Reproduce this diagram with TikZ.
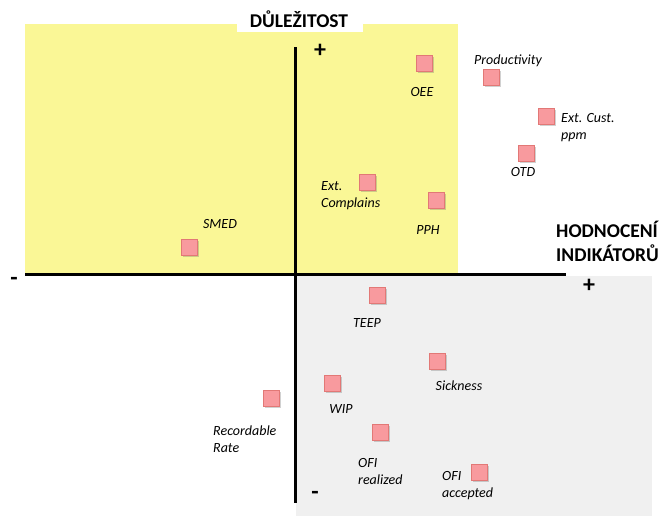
\documentclass[tikz,border=0pt]{standalone}
\usepackage{fontspec}
\setmainfont{Carlito}
\usetikzlibrary{shadows}
\definecolor{quadyellow}{RGB}{250,247,150}
\definecolor{quadgray}{RGB}{240,240,240}
\definecolor{kpifill}{RGB}{248,154,158}
\definecolor{kpiborder}{RGB}{226,120,118}
\tikzset{
  kpi/.style={draw=kpiborder, line width=0.6pt, fill=kpifill, minimum width=16pt, minimum height=16pt, inner sep=0pt,
    drop shadow={shadow xshift=1.6pt, shadow yshift=-1.8pt, opacity=0.3, fill=black!60}},
  lbl/.style={font=\itshape\fontsize{14}{17}\selectfont, inner sep=0pt, align=left},
  axis/.style={line width=3pt},
  axlbl/.style={font=\bfseries\fontsize{19.5}{24}\selectfont, inner sep=0pt, align=left},
  sign/.style={font=\bfseries\fontsize{24}{24}\selectfont, inner sep=0pt}
}
\begin{document}
\begin{tikzpicture}[x=1pt,y=-1pt]
\useasboundingbox (0,0) rectangle (659,517);
% quadrants
\fill[quadyellow] (25,24) rectangle (458,274);
\fill[quadgray] (296,276) rectangle (652,516);
\fill[white] (237,8) rectangle (363,32);
% axes
\coordinate (xl) at (25,274);
\coordinate (xr) at (566,274);
\coordinate (yt) at (295,47);
\coordinate (yb) at (295,503);
\draw[axis] (xl) -- (xr);
\draw[axis] (yt) -- (yb);
% axis labels
\node[axlbl] (ylab) at (299,19) {DŮLEŽITOST};
\node[axlbl, anchor=west] (xlab) at (556,241) {HODNOCENÍ\\INDIKÁTORŮ};
\node[sign] (yplus) at (320,51) {+};
\node[sign] (xplus) at (589,286) {+};
\node[sign] (xminus) at (14,281) {-};
\node[sign] (yminus) at (315,495) {-};
% KPIs
\node[kpi] (smed) at (189,247) {};
\node[lbl] (smedl) at (220,224) {SMED};
\node[kpi] (extc) at (367,182) {};
\node[lbl, anchor=west] (extcl) at (321,196) {Ext.\\Complains};
\node[kpi] (oee) at (424,63) {};
\node[lbl] (oeel) at (422,92) {OEE};
\node[kpi] (pph) at (436,200) {};
\node[lbl] (pphl) at (428,230) {PPH};
\node[kpi] (prod) at (491,77) {};
\node[lbl] (prodl) at (508,61) {Productivity};
\node[kpi] (extp) at (546,116) {};
\node[lbl, anchor=west] (extpl) at (561,128) {Ext. Cust.\\ppm};
\node[kpi] (otd) at (526,153) {};
\node[lbl] (otdl) at (523,172) {OTD};
\node[kpi] (teep) at (377,295) {};
\node[lbl] (teepl) at (367,323) {TEEP};
\node[kpi] (sick) at (437,361) {};
\node[lbl] (sickl) at (459,386) {Sickness};
\node[kpi] (wip) at (332,383) {};
\node[lbl] (wipl) at (341,409) {WIP};
\node[kpi] (rec) at (271,398) {};
\node[lbl, anchor=west] (recl) at (213,439) {Recordable\\Rate};
\node[kpi] (ofir) at (380,432) {};
\node[lbl, anchor=west] (ofirl) at (358,471) {OFI\\realized};
\node[kpi] (ofia) at (479,472) {};
\node[lbl, anchor=west] (ofial) at (442,486) {OFI\\accepted};
\end{tikzpicture}
\end{document}
